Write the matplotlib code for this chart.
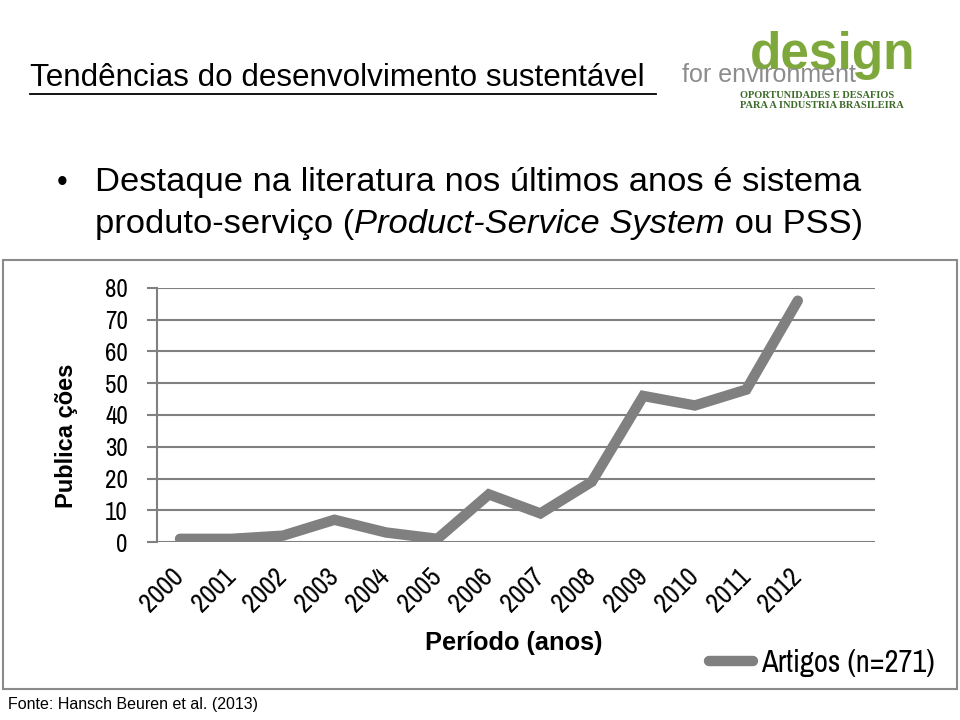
import matplotlib.pyplot as plt
from matplotlib import font_manager as fm
from matplotlib.patches import Rectangle
from matplotlib.lines import Line2D

# data
anos = ["2000", "2001", "2002", "2003", "2004", "2005", "2006",
        "2007", "2008", "2009", "2010", "2011", "2012"]
artigos = [1, 1, 2, 7, 3, 1, 15, 9, 19, 46, 43, 48, 76]
y_ticks = [0, 10, 20, 30, 40, 50, 60, 70, 80]

W, H = 960, 720
fig = plt.figure(figsize=(9.6, 7.2), dpi=100)
fig.patch.set_facecolor("white")

def fx(px):
    return px / W

def fy(py):
    return 1 - py / H

# the chart uses an Arial Narrow look; take the first narrow family that exists
installed = {f.name for f in fm.fontManager.ttflist}
narrow_pick = [n for n in ["Liberation Sans Narrow", "Arial Narrow", "Archivo Narrow",
                           "Roboto Condensed", "PT Sans Narrow", "Pragati Narrow"]
               if n in installed]
narrow = narrow_pick[:1] + ["Liberation Sans", "DejaVu Sans"]
sans = ["Liberation Sans", "DejaVu Sans"]

# slide title (underlined)
fig.text(fx(30), fy(78), "Tendências do desenvolvimento sustentável",
         fontsize=22.6, family=sans, va="center", ha="left", color="black")
fig.add_artist(Line2D([fx(30), fx(656)], [fy(94), fy(94)], color="black", lw=1.3))

# logo
fig.text(fx(750), fy(56), "design", fontsize=37, family=sans, weight="bold",
         color="#7fa83c", va="center", ha="left")
fig.text(fx(682), fy(82), "for environment", fontsize=18, family=sans,
         color="#8c8c8c", va="baseline", ha="left")
fig.text(fx(740), fy(95), "OPORTUNIDADES E DESAFIOS", fontsize=7.5,
         family=["Liberation Serif", "DejaVu Serif"], weight="bold",
         color="#3d6b2a", va="center", ha="left")
fig.text(fx(740), fy(105), "PARA A INDUSTRIA BRASILEIRA", fontsize=7.5,
         family=["Liberation Serif", "DejaVu Serif"], weight="bold",
         color="#3d6b2a", va="center", ha="left")

# bullet
fig.text(fx(57), fy(183), "\u2022", fontsize=22, family=sans, va="center", ha="left")
fig.text(fx(95), fy(183), "Destaque na literatura nos últimos anos é sistema",
         fontsize=24.8, family=sans, va="center", ha="left")

fig.canvas.draw()
renderer = fig.canvas.get_renderer()
x0 = 95
parts = [("produto-serviço (", "normal"), ("Product-Service System", "italic"),
         (" ou PSS)", "normal")]
for txt, style in parts:
    t = fig.text(fx(x0), fy(225), txt, fontsize=24.8, family=sans, style=style,
                 va="center", ha="left")
    bb = t.get_window_extent(renderer)
    x0 += bb.width

# frame of the pasted chart
fig.add_artist(Rectangle((fx(3), fy(689)), fx(954), 429 / H, transform=fig.transFigure,
                         fill=False, edgecolor="#8a8a8a", lw=1.5))

# chart axes
ax = fig.add_axes([fx(157), fy(542), fx(875 - 157), (542 - 288) / H])
x = list(range(len(anos)))
ax.plot(x, artigos, color="#808080", lw=7.5, solid_capstyle="round",
        solid_joinstyle="miter", label="Artigos (n=271)", zorder=3)
ax.set_xlim(-0.447, 13.5)
ax.set_ylim(0, 80)
ax.set_yticks(y_ticks)
ax.set_yticklabels([str(v) for v in y_ticks], family=narrow, fontsize=18)
ax.set_xticks(x)
ax.set_xticklabels(anos, rotation=45, ha="right", va="center", rotation_mode="anchor",
                   family=narrow, fontsize=19.5)
ax.tick_params(axis="x", length=0, pad=22)
ax.tick_params(axis="y", length=7, width=1.5, color="#808080", pad=14)
ax.grid(axis="y", color="#808080", lw=1.5)
ax.set_axisbelow(True)
for s in ["top", "right", "bottom"]:
    ax.spines[s].set_visible(False)
ax.spines["left"].set_color("#808080")
ax.spines["left"].set_linewidth(1.5)
ax.set_ylabel("Publica ções", family=sans, weight="bold", fontsize=17)
ax.yaxis.set_label_coords((78 - 157) / (875 - 157), (542 - 436) / (542 - 288))
ax.set_xlabel("Período (anos)", family=sans, weight="bold", fontsize=18.3)
ax.xaxis.set_label_coords((514 - 157) / (875 - 157), -(643 - 542) / (542 - 288))
ax.xaxis.label.set_va("center")
leg = ax.legend(loc="center", bbox_to_anchor=(fx(822), fy(663)),
                bbox_transform=fig.transFigure, frameon=False, handlelength=1.45,
                handletextpad=0.25, prop={"family": narrow, "size": 22})

# source footer
fig.text(fx(8), fy(705), "Fonte: Hansch Beuren et al. (2013)", fontsize=11.5,
         family=sans, va="center", ha="left")

fig.savefig("out.png", dpi=100)
